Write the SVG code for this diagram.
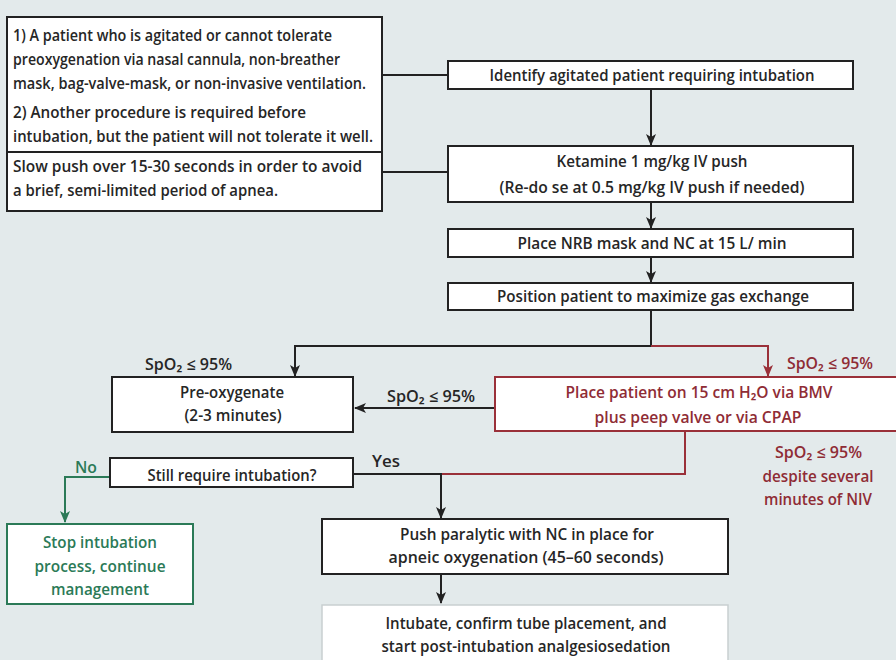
<svg xmlns="http://www.w3.org/2000/svg" width="896" height="660" viewBox="0 0 896 660">
<defs>
<style>
text{font-family:"Open Sans","Liberation Sans",Arial,"DejaVu Sans",sans-serif;font-size:16px;font-weight:600;fill:#262626}
.c{text-anchor:middle}
.box{fill:#ffffff;stroke:#222222;stroke-width:2}
.rbox{fill:#ffffff;stroke:#9a3039;stroke-width:2}
.gbox{fill:#ffffff;stroke:#2b7a57;stroke-width:2}
.lbox{fill:#ffffff;stroke:#c9cfd1;stroke-width:1.5}
.ln{fill:none;stroke:#222222;stroke-width:2}
.rln{fill:none;stroke:#9a3039;stroke-width:2}
.gln{fill:none;stroke:#2b7a57;stroke-width:2}
.red{fill:#8f2c35}
.grn{fill:#2b7a57}
</style>
<marker id="ah" viewBox="0 0 12 10" refX="11" refY="5" markerWidth="12" markerHeight="10" markerUnits="userSpaceOnUse" orient="auto">
<path d="M0,0 L12,5 L0,10 L3,5 z" fill="#222222"/>
</marker>
<marker id="ahr" viewBox="0 0 12 10" refX="11" refY="5" markerWidth="12" markerHeight="10" markerUnits="userSpaceOnUse" orient="auto">
<path d="M0,0 L12,5 L0,10 L3,5 z" fill="#9a3039"/>
</marker>
<marker id="ahg" viewBox="0 0 12 10" refX="11" refY="5" markerWidth="12" markerHeight="10" markerUnits="userSpaceOnUse" orient="auto">
<path d="M0,0 L12,5 L0,10 L3,5 z" fill="#2b7a57"/>
</marker>
</defs>
<rect x="0" y="0" width="896" height="660" fill="#e3eaeb"/>

<g id="connectors">
<path class="ln" d="M382,75 H448"/>
<path class="ln" d="M382,172 H448"/>
<path class="ln" d="M651,89 V145" marker-end="url(#ah)"/>
<path class="ln" d="M651,202 V228" marker-end="url(#ah)"/>
<path class="ln" d="M651,257 V282" marker-end="url(#ah)"/>
<path class="ln" d="M651,310 V346 H295 V376" marker-end="url(#ah)"/>
<path class="rln" d="M651,346 H768 V376" marker-end="url(#ahr)"/>
<path class="ln" d="M495,408 H355" marker-end="url(#ah)"/>
<path class="gln" d="M110,477 H65 V522" marker-end="url(#ahg)"/>
<path class="rln" d="M685,431 V474 H441"/>
<path class="ln" d="M353,474 H441 V518" marker-end="url(#ah)"/>
<path class="ln" d="M441,574 V603" marker-end="url(#ah)"/>
</g>

<g id="labels">
<text x="145" y="370" textLength="87" lengthAdjust="spacingAndGlyphs">SpO₂ ≤ 95%</text>
<text x="387" y="402" textLength="88" lengthAdjust="spacingAndGlyphs">SpO₂ ≤ 95%</text>
<text class="red" x="787" y="369" textLength="86" lengthAdjust="spacingAndGlyphs">SpO₂ ≤ 95%</text>
<text class="red" x="775" y="458" textLength="87" lengthAdjust="spacingAndGlyphs">SpO₂ ≤ 95%</text>
<text class="red c" x="818" y="482" textLength="111" lengthAdjust="spacingAndGlyphs">despite several</text>
<text class="red c" x="818" y="505" textLength="108" lengthAdjust="spacingAndGlyphs">minutes of NIV</text>
<text class="grn" x="75" y="473" textLength="22" lengthAdjust="spacingAndGlyphs">No</text>
<text x="372" y="467" textLength="28" lengthAdjust="spacingAndGlyphs">Yes</text>
</g>

<g id="criteria">
<rect class="box" x="7" y="17" width="375" height="194"/>
<path class="ln" d="M7,152 H382"/>
<text x="13" y="41" textLength="319" lengthAdjust="spacingAndGlyphs">1) A patient who is agitated or cannot tolerate</text>
<text x="13" y="65" textLength="327" lengthAdjust="spacingAndGlyphs">preoxygenation via nasal cannula, non-breather</text>
<text x="13" y="89" textLength="353" lengthAdjust="spacingAndGlyphs">mask, bag-valve-mask, or non-invasive ventilation.</text>
<text x="13" y="118" textLength="293" lengthAdjust="spacingAndGlyphs">2) Another procedure is required before</text>
<text x="13" y="142" textLength="360" lengthAdjust="spacingAndGlyphs">intubation, but the patient will not tolerate it well.</text>
<text x="13" y="172" textLength="349" lengthAdjust="spacingAndGlyphs">Slow push over 15-30 seconds in order to avoid</text>
<text x="13" y="196" textLength="265" lengthAdjust="spacingAndGlyphs">a brief, semi-limited period of apnea.</text>
</g>

<g id="identify">
<rect class="box" x="448" y="61" width="405" height="28"/>
<text class="c" x="652" y="81" textLength="325" lengthAdjust="spacingAndGlyphs">Identify agitated patient requiring intubation</text>
</g>

<g id="ketamine">
<rect class="box" x="448" y="146" width="405" height="56"/>
<text class="c" x="652" y="167" textLength="191" lengthAdjust="spacingAndGlyphs">Ketamine 1 mg/kg IV push</text>
<text class="c" x="652" y="193" textLength="305" lengthAdjust="spacingAndGlyphs">(Re-do se at 0.5 mg/kg IV push if needed)</text>
</g>

<g id="nrb">
<rect class="box" x="448" y="229" width="405" height="28"/>
<text class="c" x="652" y="249" textLength="269" lengthAdjust="spacingAndGlyphs">Place NRB mask and NC at 15 L/ min</text>
</g>

<g id="position">
<rect class="box" x="448" y="283" width="405" height="27"/>
<text class="c" x="653" y="302" textLength="312" lengthAdjust="spacingAndGlyphs">Position patient to maximize gas exchange</text>
</g>

<g id="preoxygenate">
<rect class="box" x="112" y="377" width="241" height="55"/>
<text class="c" x="232" y="398" textLength="104" lengthAdjust="spacingAndGlyphs">Pre-oxygenate</text>
<text class="c" x="233" y="421" textLength="97" lengthAdjust="spacingAndGlyphs">(2-3 minutes)</text>
</g>

<g id="niv">
<rect class="rbox" x="495" y="377" width="410" height="54"/>
<text class="red c" x="699" y="398" textLength="267" lengthAdjust="spacingAndGlyphs">Place patient on 15 cm H₂O via BMV</text>
<text class="red c" x="698" y="423" textLength="207" lengthAdjust="spacingAndGlyphs">plus peep valve or via CPAP</text>
</g>

<g id="still">
<rect class="box" x="110" y="458" width="243" height="29"/>
<text class="c" x="232" y="481" textLength="169" lengthAdjust="spacingAndGlyphs">Still require intubation?</text>
</g>

<g id="stop">
<rect class="gbox" x="7" y="524" width="186" height="80"/>
<text class="grn c" x="100" y="548" textLength="114" lengthAdjust="spacingAndGlyphs">Stop intubation</text>
<text class="grn c" x="100" y="572" textLength="131" lengthAdjust="spacingAndGlyphs">process, continue</text>
<text class="grn c" x="100" y="595" textLength="98" lengthAdjust="spacingAndGlyphs">management</text>
</g>

<g id="paralytic">
<rect class="box" x="322" y="519" width="406" height="55"/>
<text class="c" x="527" y="540" textLength="254" lengthAdjust="spacingAndGlyphs">Push paralytic with NC in place for</text>
<text class="c" x="526" y="563" textLength="275" lengthAdjust="spacingAndGlyphs">apneic oxygenation (45–60 seconds)</text>
</g>

<g id="intubate">
<rect class="lbox" x="322" y="605" width="406" height="70"/>
<text class="c" x="526" y="629" textLength="281" lengthAdjust="spacingAndGlyphs">Intubate, confirm tube placement, and</text>
<text class="c" x="526" y="652" textLength="289" lengthAdjust="spacingAndGlyphs">start post-intubation analgesiosedation</text>
</g>
</svg>
